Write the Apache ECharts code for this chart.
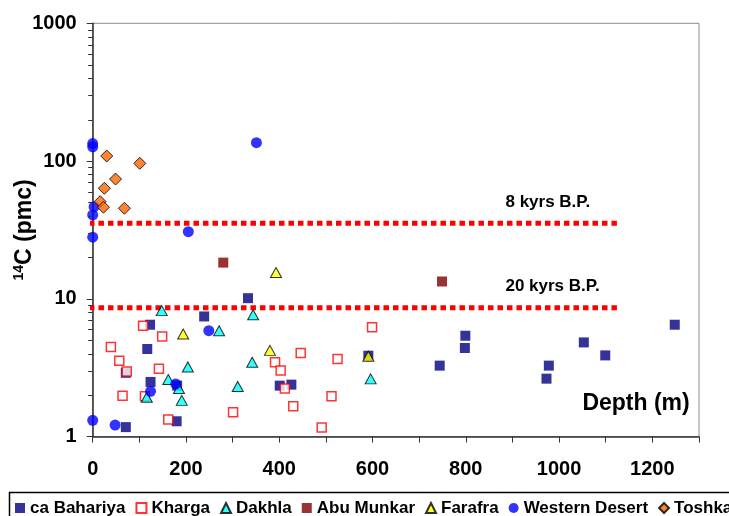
<!DOCTYPE html>
<html><head><meta charset="utf-8">
<script src="https://cdn.jsdelivr.net/npm/echarts@6/dist/echarts.min.js"></script>
<style>html,body{margin:0;padding:0;background:#fff}#c{width:729px;height:516px}</style>
</head><body><div id="c"></div>
<script>
// ---- data (depth m, 14C pmc) ----
const seriesNames = ['ca Bahariya','Kharga','Dakhla','Abu Munkar','Farafra','Western Desert','Toshka'];
const bahariya = [[333,10.1],[239,7.44],[123,6.48],[117,4.32],[71,2.9],[124,2.49],[181,2.34],[71,1.17],[180,1.29],[401,2.34],[426,2.38],[591,3.86],[744,3.27],[799,5.39],[798,4.39],[1248,6.48],[1053,4.82],[1099,3.88],[978,3.27],[973,2.63]];
const kharga = [[108,6.37],[149,5.33],[39,4.47],[57,3.55],[73,2.96],[142,3.1],[64,1.98],[112,1.96],[162,1.33],[301,1.5],[391,3.46],[403,3.02],[412,2.23],[430,1.66],[446,4.04],[491,1.16],[599,6.2],[525,3.66],[512,1.96]];
const dakhla = [[148,8.2],[344,7.66],[271,5.86],[204,3.2],[342,3.46],[162,2.59],[185,2.23],[116,1.93],[191,1.83],[311,2.31],[596,2.62]];
const abuMunkar = [[280,18.3],[749,13.35]];
const farafra = [[393,15.5],[194,5.55],[380,4.22],[591,3.82]];
const westernDesert = [[0,134],[0,127],[351,136],[3,46.6],[0,40.6],[0,28],[205,30.7],[249,5.86],[178,2.41],[124,2.13],[0,1.31],[48,1.21]];
const toshka = [[30,108.7],[101,96.2],[49,74],[25,63.4],[16,50.7],[23,46.2],[68,45.4]];
const refLineLabels = ['8 kyrs B.P.','20 kyrs B.P.'];
const refLineValues = [35.4, 8.6];
const refLineStartEnd = [-8, 1124];
const refLabelX = 885;
const xTickLabels = [0,200,400,600,800,1000,1200];
const yTickLabels = [1,10,100,1000];
const yMinorTicks = [2,3,4,5,6,7,8,9,20,30,40,50,60,70,80,90,200,300,400,500,600,700,800,900];
const xAxisTitle = 'Depth (m)';
const xAxisTitlePos = [1050, 1.73];

const FONT = 'Arial, "Liberation Sans", sans-serif';
const chart = echarts.init(document.getElementById('c'), null, {renderer:'canvas'});

function sc(name, data, symbol, size, style) {
  return {name, type:'scatter', data, symbol, symbolSize:size, itemStyle:style, clip:false, z:3};
}
const refSeries = refLineValues.map((v,i)=>({
  name:refLineLabels[i], type:'line', data:refLineStartEnd.map(x=>[x,v]), symbol:'none', clip:false, z:2,
  lineStyle:{color:'#ff0000', width:5, type:[5.5,4], cap:'butt'}, silent:true
}));

chart.setOption({
  animation:false,
  backgroundColor:'#fff',
  textStyle:{fontFamily:FONT},
  grid:{left:92.7, right:30, top:23.3, bottom:79.5, show:true, borderColor:'#8c8c8c', borderWidth:1, backgroundColor:'#fff', outerBoundsMode:'none', containLabel:false},
  xAxis:{type:'value', min:0, max:1300, interval:100,
    axisLine:{show:true, onZero:false, lineStyle:{color:'#333', width:1.5}},
    axisTick:{show:true, length:6, lineStyle:{color:'#333', width:1}},
    splitLine:{show:false},
    axisLabel:{fontSize:20, fontWeight:'bold', color:'#000', fontFamily:FONT, margin:23,
      formatter:v=> xTickLabels.indexOf(v)>=0 ? String(v) : ''}
  },
  yAxis:{type:'log', logBase:10, min:1, max:1000,
    axisLine:{show:true, onZero:false, lineStyle:{color:'#333', width:1.5}},
    axisTick:{show:true, length:6, lineStyle:{color:'#333', width:1}},
    splitLine:{show:false},
    axisLabel:{fontSize:20, fontWeight:'bold', color:'#000', fontFamily:FONT, margin:16,
      formatter:v=> yTickLabels.indexOf(v)>=0 ? String(v) : ''},
    name:'{s|14}{n|C (pmc)}', nameLocation:'middle', nameRotate:90, nameGap:55, nameMoveOverlap:false,
    nameTextStyle:{fontFamily:FONT, rich:{
      s:{fontSize:14, fontWeight:'bold', color:'#000', fontFamily:FONT, verticalAlign:'top', lineHeight:26},
      n:{fontSize:23, fontWeight:'bold', color:'#000', fontFamily:FONT, lineHeight:26}
    }}
  },
  legend:{data:seriesNames, left:15, top:499.5, width:1000, padding:0, itemWidth:10, itemHeight:10, itemGap:10,
    textStyle:{fontSize:17, fontWeight:'bold', color:'#000', fontFamily:FONT}},
  series:[
    ...refSeries,
    sc(seriesNames[0], bahariya, 'rect', 10, {color:'#000080'}),
    sc(seriesNames[1], kharga, 'rect', 9, {color:'#ffffff', borderColor:'#ff0000', borderWidth:1.5}),
    sc(seriesNames[2], dakhla, 'triangle', [11,10], {color:'#00ffff', borderColor:'#000', borderWidth:1}),
    sc(seriesNames[3], abuMunkar, 'rect', 10, {color:'#800000'}),
    sc(seriesNames[4], farafra, 'triangle', [11,10], {color:'#ffff00', borderColor:'#000', borderWidth:1}),
    sc(seriesNames[5], westernDesert, 'circle', 11, {color:'#0000ff'}),
    sc(seriesNames[6], toshka, 'diamond', 12, {color:'#ff6600', borderColor:'#000', borderWidth:1})
  ]
});

const g = [];
// y-axis minor ticks, positioned through the axis scale
yMinorTicks.forEach(v=>{
  const p = chart.convertToPixel({xAxisIndex:0, yAxisIndex:0}, [0, v]);
  const y = Math.round(p[1]) + 0.5;
  g.push({type:'line', shape:{x1:p[0]-4.5, y1:y, x2:p[0], y2:y}, style:{stroke:'#333', lineWidth:1}, z:20, silent:true});
});
refLineValues.forEach((v,i)=>{
  const p = chart.convertToPixel({xAxisIndex:0, yAxisIndex:0}, [refLabelX, v]);
  g.push({type:'text', x:p[0], y:p[1]-21, style:{text:refLineLabels[i], font:'bold 17px '+FONT, fill:'#000', textAlign:'left', textVerticalAlign:'middle'}, z:10});
});
const pt = chart.convertToPixel({xAxisIndex:0, yAxisIndex:0}, xAxisTitlePos);
g.push({type:'text', x:pt[0], y:pt[1], style:{text:xAxisTitle, font:'bold 23px '+FONT, fill:'#000', textAlign:'left', textVerticalAlign:'middle'}, z:10});
g.push({type:'rect', shape:{x:9.5, y:492.5, width:760, height:40}, style:{fill:'none', stroke:'#000', lineWidth:1.5}, z:0});
chart.setOption({graphic:g});
</script></body></html>
